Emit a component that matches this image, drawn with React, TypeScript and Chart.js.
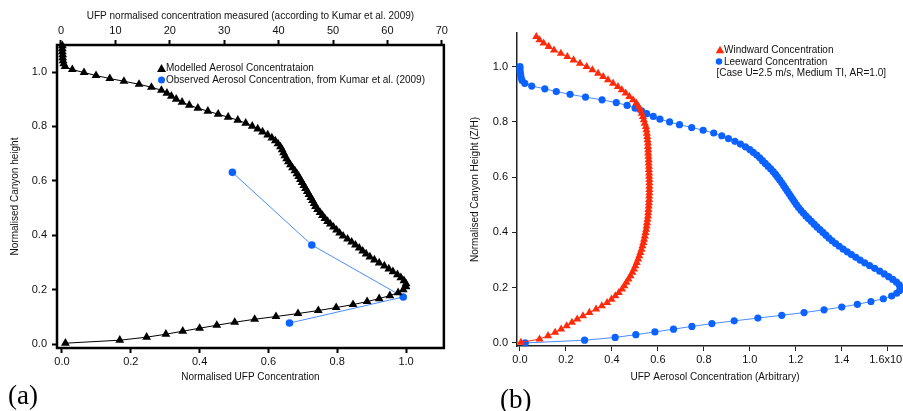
import { useEffect, useRef } from 'react';
import { Chart, registerables } from 'chart.js';

Chart.register(...registerables);

// ---------- Panel (a): modelled vs observed UFP profile ----------
const heightA = [
  0.003, 0.014, 0.025, 0.036, 0.047, 0.058, 0.069, 0.080, 0.091, 0.101,
  0.112, 0.123, 0.134, 0.145, 0.156, 0.167, 0.178, 0.189, 0.200, 0.211,
  0.222, 0.233, 0.244, 0.255, 0.266, 0.276, 0.287, 0.298, 0.309, 0.320,
  0.331, 0.342, 0.353, 0.364, 0.375, 0.386, 0.397, 0.408, 0.419, 0.430,
  0.441, 0.451, 0.462, 0.473, 0.484, 0.495, 0.506, 0.517, 0.528, 0.539,
  0.550, 0.561, 0.572, 0.583, 0.594, 0.605, 0.616, 0.626, 0.637, 0.648,
  0.659, 0.670, 0.681, 0.692, 0.703, 0.714, 0.725, 0.736, 0.747, 0.758,
  0.769, 0.780, 0.791, 0.801, 0.812, 0.823, 0.834, 0.845, 0.856, 0.867,
  0.878, 0.889, 0.900, 0.911, 0.922, 0.933, 0.944, 0.955, 0.966, 0.976,
  0.987, 0.998, 1.009, 1.020, 1.031, 1.042, 1.053, 1.064, 1.075, 1.086,
  1.097,
];
const modelledA = [
  0.010, 0.168, 0.246, 0.302, 0.351, 0.400, 0.450, 0.502, 0.560, 0.622,
  0.686, 0.745, 0.797, 0.846, 0.887, 0.922, 0.953, 0.977, 0.992, 1.000,
  1.000, 0.994, 0.985, 0.975, 0.962, 0.950, 0.937, 0.922, 0.908, 0.895,
  0.884, 0.874, 0.864, 0.853, 0.842, 0.830, 0.817, 0.807, 0.798, 0.789,
  0.780, 0.772, 0.764, 0.757, 0.750, 0.743, 0.737, 0.733, 0.728, 0.723,
  0.718, 0.713, 0.708, 0.703, 0.698, 0.693, 0.688, 0.683, 0.677, 0.670,
  0.664, 0.658, 0.653, 0.648, 0.644, 0.640, 0.635, 0.628, 0.620, 0.610,
  0.598, 0.583, 0.569, 0.553, 0.534, 0.511, 0.483, 0.454, 0.424, 0.395,
  0.370, 0.349, 0.332, 0.318, 0.305, 0.289, 0.260, 0.224, 0.180, 0.139,
  0.099, 0.064, 0.030, 0.009, 0.005, 0.003, 0.002, 0.002, 0.001, 0.001,
  0.001,
];
const observedHeightA = [0.631, 0.364, 0.173, 0.077];
const observedMeasuredA = [31.5, 46.1, 62.9, 42.0];

const bottomTicksA = [0, 0.2, 0.4, 0.6, 0.8, 1.0];
const bottomTickLabelsA = ['0.0', '0.2', '0.4', '0.6', '0.8', '1.0'];
const topTicksA = [0, 10, 20, 30, 40, 50, 60, 70];
const topTickLabelsA = ['0', '10', '20', '30', '40', '50', '60', '70'];
const leftTicksA = [0, 0.2, 0.4, 0.6, 0.8, 1.0];
const leftTickLabelsA = ['0.0', '0.2', '0.4', '0.6', '0.8', '1.0'];

// ---------- Panel (b): windward and leeward concentration ----------
const heightWindB = [
  0.002, 0.014, 0.026, 0.038, 0.050, 0.062, 0.074, 0.086, 0.098, 0.110,
  0.122, 0.134, 0.146, 0.158, 0.170, 0.182, 0.195, 0.207, 0.219, 0.231,
  0.243, 0.255, 0.267, 0.279, 0.291, 0.303, 0.315, 0.327, 0.339, 0.351,
  0.363, 0.375, 0.387, 0.399, 0.411, 0.423, 0.435, 0.447, 0.459, 0.471,
  0.483, 0.495, 0.507, 0.519, 0.531, 0.543, 0.555, 0.567, 0.579, 0.591,
  0.603, 0.615, 0.627, 0.639, 0.651, 0.663, 0.675, 0.687, 0.699, 0.711,
  0.723, 0.735, 0.747, 0.759, 0.771, 0.783, 0.795, 0.807, 0.819, 0.831,
  0.844, 0.856, 0.868, 0.880, 0.892, 0.904, 0.916, 0.928, 0.940, 0.952,
  0.964, 0.976, 0.988, 1.000, 1.012, 1.024, 1.036, 1.048, 1.060, 1.073,
  1.085, 1.097, 1.109,
];
const windwardB = [
  0.004, 0.085, 0.122, 0.153, 0.179, 0.203, 0.226, 0.249, 0.274, 0.302,
  0.331, 0.356, 0.379, 0.398, 0.415, 0.430, 0.444, 0.454, 0.463, 0.472,
  0.481, 0.489, 0.496, 0.502, 0.508, 0.514, 0.519, 0.524, 0.529, 0.533,
  0.537, 0.540, 0.543, 0.546, 0.549, 0.551, 0.553, 0.555, 0.557, 0.558,
  0.559, 0.560, 0.561, 0.562, 0.562, 0.563, 0.563, 0.563, 0.563, 0.563,
  0.562, 0.562, 0.561, 0.561, 0.560, 0.560, 0.559, 0.558, 0.558, 0.557,
  0.557, 0.555, 0.554, 0.552, 0.550, 0.548, 0.543, 0.539, 0.535, 0.530,
  0.524, 0.515, 0.506, 0.492, 0.476, 0.460, 0.443, 0.426, 0.405, 0.383,
  0.362, 0.340, 0.315, 0.290, 0.261, 0.233, 0.206, 0.178, 0.148, 0.125,
  0.103, 0.085, 0.071,
];
const heightLeeB = [
  0.00, 0.01, 0.02, 0.03, 0.04, 0.05, 0.06, 0.07, 0.08, 0.09,
  0.10, 0.11, 0.12, 0.13, 0.14, 0.15, 0.16, 0.17, 0.18, 0.19,
  0.20, 0.21, 0.22, 0.23, 0.24, 0.25, 0.26, 0.27, 0.28, 0.29,
  0.30, 0.31, 0.32, 0.33, 0.34, 0.35, 0.36, 0.37, 0.38, 0.39,
  0.40, 0.41, 0.42, 0.43, 0.44, 0.45, 0.46, 0.47, 0.48, 0.49,
  0.50, 0.51, 0.52, 0.53, 0.54, 0.55, 0.56, 0.57, 0.58, 0.59,
  0.60, 0.61, 0.62, 0.63, 0.64, 0.65, 0.66, 0.67, 0.68, 0.69,
  0.70, 0.71, 0.72, 0.73, 0.74, 0.75, 0.76, 0.77, 0.78, 0.79,
  0.80, 0.81, 0.82, 0.83, 0.84, 0.85, 0.86, 0.87, 0.88, 0.89,
  0.90, 0.91, 0.92, 0.93, 0.94, 0.95, 0.96, 0.97, 0.98, 0.99,
  1.00,
];
const leewardB = [
  0.023, 0.281, 0.414, 0.504, 0.587, 0.668, 0.748, 0.835, 0.932, 1.035,
  1.139, 1.236, 1.323, 1.400, 1.468, 1.527, 1.581, 1.617, 1.639, 1.652,
  1.657, 1.650, 1.638, 1.622, 1.604, 1.585, 1.565, 1.543, 1.521, 1.500,
  1.480, 1.461, 1.442, 1.424, 1.406, 1.389, 1.373, 1.358, 1.344, 1.331,
  1.318, 1.305, 1.292, 1.280, 1.268, 1.256, 1.244, 1.233, 1.222, 1.212,
  1.203, 1.195, 1.187, 1.179, 1.171, 1.163, 1.155, 1.147, 1.139, 1.130,
  1.121, 1.112, 1.102, 1.091, 1.079, 1.067, 1.055, 1.043, 1.030, 1.015,
  1.000, 0.981, 0.959, 0.935, 0.907, 0.878, 0.843, 0.797, 0.747, 0.694,
  0.651, 0.609, 0.580, 0.551, 0.529, 0.501, 0.466, 0.419, 0.357, 0.285,
  0.218, 0.158, 0.108, 0.051, 0.021, 0.009, 0.005, 0.003, 0.001, 0.000,
  0.000,
];

const xTicksB = [0, 0.2, 0.4, 0.6, 0.8, 1.0, 1.2, 1.4, 1.6];
const xTickLabelsB = ['0.0', '0.2', '0.4', '0.6', '0.8', '1.0', '1.2', '1.4', '1.6x10\u2077'];
const yTicksB = [0, 0.2, 0.4, 0.6, 0.8, 1.0];
const yTickLabelsB = ['0.0', '0.2', '0.4', '0.6', '0.8', '1.0'];

const FAMILY = '"Liberation Sans", Arial, Helvetica, sans-serif';
const tickFont = { family: FAMILY, size: 11 };
const titleFont = { family: FAMILY, size: 10 };
const BLUE = '#0b62ff';
const BLUE_LINE = '#4a8bff';
const RED = '#ff2a0a';

const zip = (xs: number[], ys: number[]) =>
  xs.slice(0, Math.min(xs.length, ys.length)).map((x, i) => ({ x, y: ys[i] }));

type LegendItem = { text: string; marker: 'triangle' | 'circle' | null; color: string; markerX: number; textX: number; y: number };

function drawTriangle(ctx: CanvasRenderingContext2D, cx: number, cy: number, w: number, h: number) {
  ctx.beginPath();
  ctx.moveTo(cx, cy - h / 2);
  ctx.lineTo(cx + w / 2, cy + h / 2);
  ctx.lineTo(cx - w / 2, cy + h / 2);
  ctx.closePath();
  ctx.fill();
}

function legendPlugin(id: string, items: LegendItem[], size: number) {
  return {
    id,
    afterDraw(chart: any) {
      const ctx: CanvasRenderingContext2D = chart.ctx;
      ctx.save();
      ctx.font = `10px ${FAMILY}`;
      ctx.textBaseline = 'middle';
      ctx.textAlign = 'left';
      for (const it of items) {
        ctx.fillStyle = it.color;
        if (it.marker === 'triangle') drawTriangle(ctx, it.markerX, it.y, size + 1, size);
        if (it.marker === 'circle') {
          ctx.beginPath();
          ctx.arc(it.markerX, it.y, size / 2 - 0.5, 0, Math.PI * 2);
          ctx.fill();
        }
        ctx.fillStyle = '#111';
        ctx.fillText(it.text, it.textX, it.y + 0.5);
      }
      ctx.restore();
    },
  };
}

// Thick box drawn around the plotting area of panel (a)
const frameA = {
  id: 'frameA',
  beforeDatasetsDraw(chart: any) {
    const { ctx, chartArea } = chart;
    ctx.save();
    ctx.strokeStyle = '#000';
    ctx.lineWidth = 2.5;
    ctx.strokeRect(chartArea.left, chartArea.top, chartArea.right - chartArea.left, chartArea.bottom - chartArea.top);
    ctx.restore();
  },
};

function setTicks(values: number[]) {
  return (scale: any) => {
    scale.ticks = values.map((v) => ({ value: v }));
  };
}

export default function App() {
  const refA = useRef<HTMLCanvasElement>(null);
  const refB = useRef<HTMLCanvasElement>(null);

  useEffect(() => {
    const gridA = { drawOnChartArea: false, drawTicks: true, tickLength: 5, tickWidth: 2, color: '#000' };
    const chartA = new Chart(refA.current as HTMLCanvasElement, {
      type: 'scatter',
      data: {
        datasets: [
          {
            label: 'Modelled Aerosol Concentrataion',
            data: zip(modelledA, heightA),
            xAxisID: 'x',
            yAxisID: 'y',
            showLine: true,
            borderColor: '#000',
            borderWidth: 1,
            backgroundColor: '#000',
            pointStyle: 'triangle',
            pointRadius: 5.1,
            pointBorderWidth: 0,
            clip: false,
          },
          {
            label: 'Observed Aerosol Concentration, from Kumar et al. (2009)',
            data: zip(observedMeasuredA, observedHeightA),
            xAxisID: 'x2',
            yAxisID: 'y',
            showLine: true,
            borderColor: BLUE_LINE,
            borderWidth: 1,
            backgroundColor: BLUE,
            pointStyle: 'circle',
            pointRadius: 3.8,
            pointBorderWidth: 0,
            clip: false,
          },
        ],
      },
      options: {
        responsive: false,
        animation: false,
        events: [],
        layout: { padding: { left: 0, right: 5, top: 0, bottom: 0 } },
        plugins: { legend: { display: false }, tooltip: { enabled: false } },
        scales: {
          x: {
            type: 'linear',
            position: 'bottom',
            min: -0.0145,
            max: 1.11,
            afterBuildTicks: setTicks(bottomTicksA),
            afterFit: (s: any) => { s.height = 42; },
            ticks: { callback: (_v: any, i: number) => bottomTickLabelsA[i], font: tickFont, color: '#111', padding: 2, maxRotation: 0, autoSkip: false },
            grid: gridA,
            border: { display: false },
            title: { display: true, text: 'Normalised UFP Concentration', font: titleFont, color: '#111', padding: { top: 0, bottom: 7 } },
          },
          x2: {
            type: 'linear',
            position: 'top',
            min: -0.73,
            max: 70.37,
            afterBuildTicks: setTicks(topTicksA),
            afterFit: (s: any) => { s.height = 45; },
            ticks: { callback: (_v: any, i: number) => topTickLabelsA[i], font: tickFont, color: '#111', padding: 2, maxRotation: 0, autoSkip: false },
            grid: gridA,
            border: { display: false },
            title: { display: true, text: 'UFP normalised concentration measured (according to Kumar et al. 2009)', font: titleFont, color: '#111', padding: { top: 10, bottom: 0 } },
          },
          y: {
            type: 'linear',
            position: 'left',
            min: -0.0147,
            max: 1.0993,
            afterBuildTicks: setTicks(leftTicksA),
            afterFit: (s: any) => { s.width = 57; },
            ticks: { callback: (_v: any, i: number) => leftTickLabelsA[i], font: tickFont, color: '#111', padding: 5, autoSkip: false },
            grid: gridA,
            border: { display: false },
            title: { display: true, text: 'Normalised Canyon height', font: titleFont, color: '#111', padding: { top: 9, bottom: 0 } },
          },
        },
      },
      plugins: [
        frameA,
        legendPlugin('legendA', [
          { text: 'Modelled Aerosol Concentrataion', marker: 'triangle', color: '#000', markerX: 161.5, textX: 166, y: 68 },
          { text: 'Observed Aerosol Concentration, from Kumar et al. (2009)', marker: 'circle', color: BLUE, markerX: 161.5, textX: 166, y: 80 },
        ], 8),
      ],
    } as any);

    const gridB = { drawOnChartArea: false, drawTicks: true, tickLength: 5, tickWidth: 1, color: '#222' };
    const borderB = { display: true, color: '#222', width: 1.5 };
    const chartB = new Chart(refB.current as HTMLCanvasElement, {
      type: 'scatter',
      data: {
        datasets: [
          {
            label: 'Windward Concentration',
            data: zip(windwardB, heightWindB),
            showLine: true,
            borderColor: RED,
            borderWidth: 1,
            backgroundColor: RED,
            pointStyle: 'triangle',
            pointRadius: 4.7,
            pointBorderWidth: 0,
            clip: false,
          },
          {
            label: 'Leeward Concentration',
            data: zip(leewardB, heightLeeB),
            showLine: true,
            borderColor: BLUE_LINE,
            borderWidth: 1,
            backgroundColor: BLUE,
            pointStyle: 'circle',
            pointRadius: 3.6,
            pointBorderWidth: 0,
            clip: false,
          },
        ],
      },
      options: {
        responsive: false,
        animation: false,
        events: [],
        layout: { padding: { left: 0, right: 17, top: 33, bottom: 0 } },
        plugins: { legend: { display: false }, tooltip: { enabled: false } },
        scales: {
          x: {
            type: 'linear',
            position: 'bottom',
            min: -0.013,
            max: 1.71,
            afterBuildTicks: setTicks(xTicksB),
            afterFit: (s: any) => { s.height = 44; },
            ticks: { callback: (_v: any, i: number) => xTickLabelsB[i], font: tickFont, color: '#111', padding: 2, maxRotation: 0, autoSkip: false },
            grid: gridB,
            border: borderB,
            title: { display: true, text: 'UFP Aerosol Concentration (Arbitrary)', font: titleFont, color: '#111', padding: { top: 0, bottom: 7 } },
          },
          y: {
            type: 'linear',
            position: 'left',
            min: -0.011,
            max: 1.122,
            afterBuildTicks: setTicks(yTicksB),
            afterFit: (s: any) => { s.width = 67; },
            ticks: { callback: (_v: any, i: number) => yTickLabelsB[i], font: tickFont, color: '#111', padding: 4, autoSkip: false },
            grid: gridB,
            border: borderB,
            title: { display: true, text: 'Normalised Canyon Height (Z/H)', font: titleFont, color: '#111', padding: { top: 19, bottom: 0 } },
          },
        },
      },
      plugins: [
        legendPlugin('legendB', [
          { text: 'Windward Concentration', marker: 'triangle', color: RED, markerX: 270, textX: 274, y: 49.5 },
          { text: 'Leeward Concentration', marker: 'circle', color: BLUE, markerX: 269, textX: 274, y: 61.5 },
          { text: '[Case U=2.5 m/s, Medium TI, AR=1.0]', marker: null, color: '#111', markerX: 0, textX: 266.5, y: 72.5 },
        ], 7.5),
      ],
    } as any);

    return () => {
      chartA.destroy();
      chartB.destroy();
    };
  }, []);

  const panelLabel = { position: 'absolute' as const, font: '27px "Liberation Serif", "Times New Roman", serif', lineHeight: '27px', color: '#000' };

  return (
    <div style={{ position: 'fixed', left: 0, top: 0, width: 903, height: 411, overflow: 'hidden', background: '#fff' }}>
      <canvas ref={refA} width={450} height={390} style={{ position: 'absolute', left: 0, top: 0, width: 450, height: 390 }} />
      <canvas ref={refB} width={480} height={390} style={{ position: 'absolute', left: 450, top: 0, width: 480, height: 390 }} />
      <div style={{ ...panelLabel, left: 8, top: 382 }}>(a)</div>
      <div style={{ ...panelLabel, left: 500, top: 386 }}>(b)</div>
    </div>
  );
}
